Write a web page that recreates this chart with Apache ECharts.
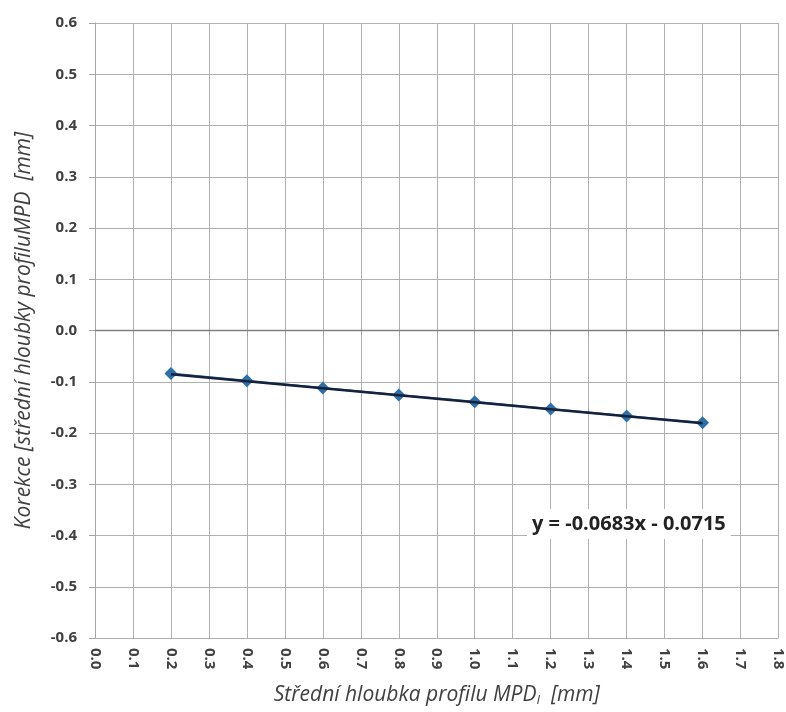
<!DOCTYPE html>
<html><head><meta charset="utf-8">
<script src="https://cdn.jsdelivr.net/npm/echarts@6/dist/echarts.min.js"></script>
<style>html,body{margin:0;padding:0;background:#fff}#c{width:786px;height:712px}</style>
</head><body><div id="c"></div>
<script>
const xValues = [0.2, 0.4, 0.6, 0.8, 1.0, 1.2, 1.4, 1.6];
const yValues = [-0.084, -0.098, -0.112, -0.126, -0.139, -0.153, -0.167, -0.180];
const trendSlope = -0.0683;
const trendIntercept = -0.0715;
const trendX = [0.2, 1.6];
const equationText = 'y = -0.0683x - 0.0715';
const xTitle = 'Střední hloubka profilu MPD';
const xTitleSub = 'I';
const yTitle = 'Korekce [střední hloubky profiluMPD  [mm]';

const chart = echarts.init(document.getElementById('c'));
const font = 'Open Sans';
chart.setOption({
  animation: false,
  grid: {left: 95, right: 5, top: 23, bottom: 71, containLabel: false},
  xAxis: {
    type: 'value', min: 0, max: 1.8, interval: 0.1,
    axisLine: {show: true, lineStyle: {color: '#a6a6a6', width: 1}},
    axisTick: {show: true, length: 6, lineStyle: {color: '#a6a6a6'}},
    splitLine: {show: true, lineStyle: {color: '#b0b0b0', width: 1}},
    axisLabel: {rotate: -90, color: '#404040', fontFamily: font, fontSize: 15, fontWeight: 'bold', margin: 10,
      formatter: v => v.toFixed(1)},
    name: '{t|' + xTitle + '}{s|' + xTitleSub + '}{t|  [mm]}', nameLocation: 'middle', nameGap: 45,
    nameTextStyle: {rich: {
      t: {fontFamily: font, fontSize: 21, fontStyle: 'italic', color: '#404040'},
      s: {fontFamily: font, fontSize: 13, fontStyle: 'italic', color: '#404040', padding: [11,0,0,0]}
    }}
  },
  yAxis: {
    type: 'value', min: -0.6, max: 0.6, interval: 0.1,
    axisLine: {show: true, lineStyle: {color: '#a6a6a6', width: 1}},
    axisTick: {show: true, length: 6, lineStyle: {color: '#a6a6a6'}},
    splitLine: {show: true, lineStyle: {color: '#b0b0b0', width: 1}},
    axisLabel: {color: '#404040', fontFamily: font, fontSize: 15, fontWeight: 'bold', margin: 18,
      formatter: v => v.toFixed(1)},
    name: yTitle, nameLocation: 'middle', nameGap: 60,
    nameTextStyle: {fontFamily: font, fontSize: 21, fontStyle: 'italic', color: '#404040'}
  },
  graphic: [{
    type: 'text', left: 527, top: 509, z: 100,
    style: {text: equationText, fontFamily: font, fontSize: 20, fontWeight: 'bold', fill: '#222',
      backgroundColor: '#fff', padding: [5, 5]}
  }],
  series: [
    {type: 'line', data: [[0, 0], [1.8, 0]], symbol: 'none', lineStyle: {color: '#808080', width: 1.5}, z: 1, silent: true},
    {type: 'line', data: xValues.map((x, i) => [x, yValues[i]]), symbol: 'diamond', symbolSize: 13,
      itemStyle: {color: '#2f6fa8'}, lineStyle: {color: '#2f6fa8', width: 2}, z: 3},
    {type: 'line', data: trendX.map(x => [x, trendSlope * x + trendIntercept]), symbol: 'none',
      lineStyle: {color: '#16223c', width: 2.5}, z: 4}
  ]
});
</script></body></html>
